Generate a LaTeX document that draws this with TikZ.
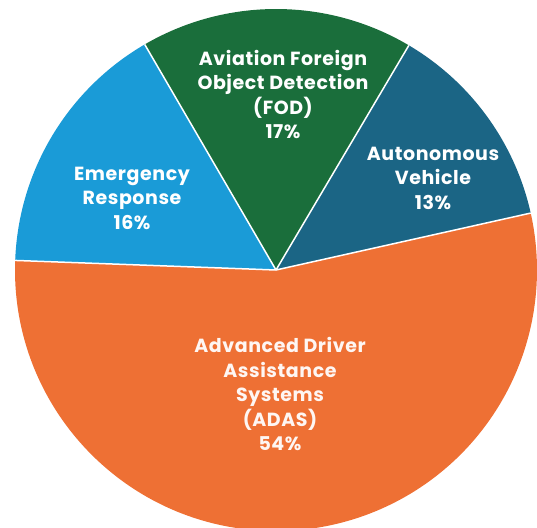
\documentclass[tikz,border=0pt]{standalone}
\usepackage{fontspec}
\setmainfont{Poppins}[LetterSpace=3]
\usetikzlibrary{calc}
\definecolor{adasc}{HTML}{EE7034}
\definecolor{emergc}{HTML}{1A9BD7}
\definecolor{fodc}{HTML}{1A6E3B}
\definecolor{autoc}{HTML}{1B6585}
\begin{document}
\begin{tikzpicture}[x=1pt,y=1pt,
  lbl/.style={text=white,font=\fontsize{19}{24.5}\selectfont\bfseries,align=center,inner sep=0pt},
  sep/.style={draw=white,line width=1.5pt}]
\useasboundingbox (0,0) rectangle (537,527);
\clip (0,0) rectangle (537,527);
\coordinate (c) at (276,257);
\def\R{261}
\fill[autoc] (c) -- ++(12.6:\R) arc[start angle=12.6,end angle=59.4,radius=\R] -- cycle;
\fill[fodc] (c) -- ++(59.4:\R) arc[start angle=59.4,end angle=120.2,radius=\R] -- cycle;
\fill[emergc] (c) -- ++(120.2:\R) arc[start angle=120.2,end angle=177.9,radius=\R] -- cycle;
\fill[adasc] (c) -- ++(177.9:\R) arc[start angle=177.9,end angle=372.6,radius=\R] -- cycle;
\coordinate (b1) at ($(c)+(12.6:\R)$);
\coordinate (b2) at ($(c)+(59.4:\R)$);
\coordinate (b3) at ($(c)+(120.2:\R)$);
\coordinate (b4) at ($(c)+(177.9:\R)$);
\draw[sep] (c) -- (b1);
\draw[sep] (c) -- (b2);
\draw[sep] (c) -- (b3);
\draw[sep] (c) -- (b4);
\node[lbl] (tfod) at (283,432.5) {Aviation Foreign\\Object Detection\\(FOD)\\17\%};
\node[lbl] (temerg) at (132,329) {Emergency\\Response\\16\%};
\node[lbl] (tauto) at (433,349) {Autonomous\\Vehicle\\13\%};
\node[lbl,text=white!94!adasc] (tadas) at (280,133) {Advanced Driver\\Assistance\\Systems\\(ADAS)\\54\%};
\end{tikzpicture}
\end{document}
